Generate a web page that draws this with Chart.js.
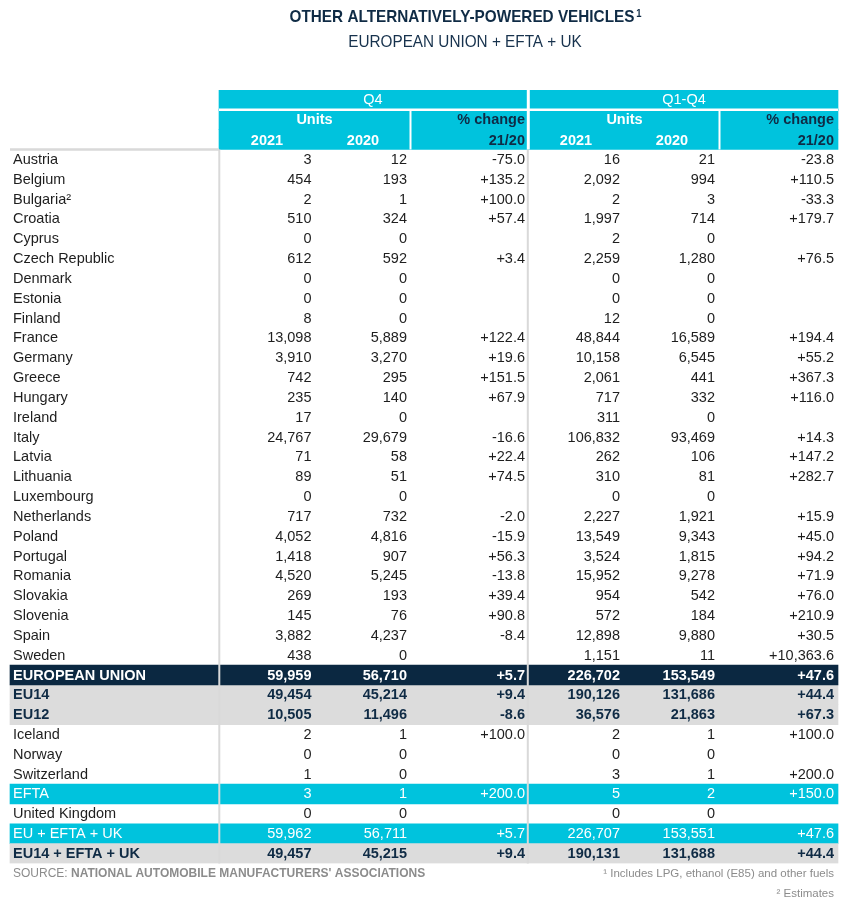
<!DOCTYPE html>
<html>
<head>
<meta charset="utf-8">
<script src="https://cdn.jsdelivr.net/npm/chart.js@4.4.1/dist/chart.umd.min.js"></script>
<style>
  html, body { margin: 0; padding: 0; background: #fff; }
  #wrap { position: relative; width: 850px; height: 904px; }
</style>
</head>
<body>
<div id="wrap"><canvas id="tableChart"></canvas></div>
<script>
// table rows
const countries = [
    'Austria', 'Belgium', 'Bulgaria²', 'Croatia', 'Cyprus', 'Czech Republic', 'Denmark',
    'Estonia', 'Finland', 'France', 'Germany', 'Greece', 'Hungary', 'Ireland', 'Italy',
    'Latvia', 'Lithuania', 'Luxembourg', 'Netherlands', 'Poland', 'Portugal', 'Romania',
    'Slovakia', 'Slovenia', 'Spain', 'Sweden', 'EUROPEAN UNION', 'EU14', 'EU12',
    'Iceland', 'Norway', 'Switzerland', 'EFTA', 'United Kingdom', 'EU + EFTA + UK',
    'EU14 + EFTA + UK'
];

// Q4
const q4Units2021 = [
    3, 454, 2, 510, 0, 612, 0, 0, 8, 13098, 3910, 742, 235, 17, 24767, 71, 89, 0,
    717, 4052, 1418, 4520, 269, 145, 3882, 438, 59959, 49454, 10505, 2, 0, 1, 3, 0,
    59962, 49457
];
const q4Units2020 = [
    12, 193, 1, 324, 0, 592, 0, 0, 0, 5889, 3270, 295, 140, 0, 29679, 58, 51, 0,
    732, 4816, 907, 5245, 193, 76, 4237, 0, 56710, 45214, 11496, 1, 0, 0, 1, 0,
    56711, 45215
];
const q4Change = [
    -75.0, 135.2, 100.0, 57.4, null, 3.4, null, null, null, 122.4, 19.6, 151.5, 67.9,
    null, -16.6, 22.4, 74.5, null, -2.0, -15.9, 56.3, -13.8, 39.4, 90.8, -8.4, null,
    5.7, 9.4, -8.6, 100.0, null, null, 200.0, null, 5.7, 9.4
];

// Q1-Q4
const fyUnits2021 = [
    16, 2092, 2, 1997, 2, 2259, 0, 0, 12, 48844, 10158, 2061, 717, 311, 106832, 262,
    310, 0, 2227, 13549, 3524, 15952, 954, 572, 12898, 1151, 226702, 190126, 36576,
    2, 0, 3, 5, 0, 226707, 190131
];
const fyUnits2020 = [
    21, 994, 3, 714, 0, 1280, 0, 0, 0, 16589, 6545, 441, 332, 0, 93469, 106, 81, 0,
    1921, 9343, 1815, 9278, 542, 184, 9880, 11, 153549, 131686, 21863, 1, 0, 1, 2, 0,
    153551, 131688
];
const fyChange = [
    -23.8, 110.5, -33.3, 179.7, null, 76.5, null, null, null, 194.4, 55.2, 367.3, 116.0,
    null, 14.3, 147.2, 282.7, null, 15.9, 45.0, 94.2, 71.9, 76.0, 210.9, 30.5, 10363.6,
    47.6, 44.4, 67.3, 100.0, null, 200.0, 150.0, null, 47.6, 44.4
];

const periodLabels = ['Q4', 'Q1-Q4'];
const yearLabels = ['2021', '2020'];
const headerRows = ['hdr-period', 'hdr-units', 'hdr-years'];

// how some rows are shaded
const rowKinds = {
    'EUROPEAN UNION': 'eu',
    'EU14': 'sub',
    'EU12': 'sub',
    'EFTA': 'band',
    'EU + EFTA + UK': 'band',
    'EU14 + EFTA + UK': 'total'
};

const CYAN = '#00c3dd';
const NAVY = '#0b2841';
const GREY = '#dcdcdc';
const RULE = '#d9d9d9';
const INK = '#1e1e1e';
const HEAD_INK = '#0f2b45';
const FONT = "'Liberation Sans', Arial, sans-serif";

const labels = headerRows.concat(countries);
const rowSpan = (kinds, from, to) => labels.map((l, i) => {
    if (kinds === 'header') return i < headerRows.length ? [from, to] : null;
    return kinds.includes(rowKinds[l]) ? [from, to] : null;
});

const barDefaults = {
    grouped: false,
    barPercentage: 1,
    categoryPercentage: 1,
    borderWidth: 0
};

// column anchors on the x scale (0..850)
const colQ4 = { units: [311.5, 407], change: 525, unitsMid: 314.5, yearMid: [267, 363], mid: 373 };
const colFY = { units: [620, 715], change: 834, unitsMid: 624.5, yearMid: [576, 672], mid: 684 };

const fmtUnits = v => v.toLocaleString('en-US');
const fmtChange = v => v === null ? '' :
    (v > 0 ? '+' : '') + v.toLocaleString('en-US', { minimumFractionDigits: 1, maximumFractionDigits: 1 });

function text(ctx, str, x, y, align, font, color) {
    ctx.font = font;
    ctx.fillStyle = color;
    ctx.textAlign = align;
    ctx.fillText(str, x, y);
}

const tableText = {
    id: 'tableText',
    afterDatasetsDraw(chart) {
        const { ctx, chartArea } = chart;
        const x = chart.scales.x;
        const y = chart.scales.y;
        const h = Math.abs(y.getPixelForValue(1) - y.getPixelForValue(0));
        const top = i => y.getPixelForValue(i) - h / 2;
        const line = (x0, y0, x1, y1, w, c) => {
            ctx.beginPath();
            ctx.lineWidth = w;
            ctx.strokeStyle = c;
            ctx.moveTo(x.getPixelForValue(x0), y0);
            ctx.lineTo(x.getPixelForValue(x1), y1);
            ctx.stroke();
        };

        ctx.save();

        // header separators
        line(219, top(1), 838, top(1), 2.5, '#fff');
        line(528.3, top(0), 528.3, top(3), 3, '#fff');
        line(410.5, top(1), 410.5, top(3), 2, '#fff');
        line(719.5, top(1), 719.5, top(3), 2, '#fff');

        // grey rules
        line(10, top(3), 219, top(3), 2.5, RULE);
        line(219.3, top(3), 219.3, chartArea.bottom, 2, RULE);
        line(527.8, top(3), 527.8, chartArea.bottom, 2, RULE);

        ctx.textBaseline = 'middle';
        const bold = `bold 14.5px ${FONT}`;
        const reg = `14.5px ${FONT}`;

        // header
        [colQ4, colFY].forEach((c, k) => {
            text(ctx, periodLabels[k], x.getPixelForValue(c.mid), y.getPixelForValue(0) + 0.5, 'center', reg, '#fff');
            text(ctx, 'Units', x.getPixelForValue(c.unitsMid), y.getPixelForValue(1) + 0.5, 'center', bold, '#fff');
            text(ctx, '% change', x.getPixelForValue(c.change), y.getPixelForValue(1) + 0.5, 'right', bold, HEAD_INK);
            yearLabels.forEach((yr, j) => {
                text(ctx, yr, x.getPixelForValue(c.yearMid[j]), y.getPixelForValue(2) + 1, 'center', bold, '#fff');
            });
            text(ctx, '21/20', x.getPixelForValue(c.change), y.getPixelForValue(2) + 1, 'right', bold, HEAD_INK);
        });

        // body
        countries.forEach((name, i) => {
            const cy = y.getPixelForValue(i + headerRows.length) + 0.5;
            const kind = rowKinds[name];
            let font = reg, color = INK;
            if (kind === 'eu') { font = bold; color = '#fff'; }
            if (kind === 'sub' || kind === 'total') { font = bold; color = HEAD_INK; }
            if (kind === 'band') { color = '#fff'; }

            text(ctx, name, x.getPixelForValue(13), cy, 'left', font, color);
            const cells = [
                [fmtUnits(q4Units2021[i]), colQ4.units[0]],
                [fmtUnits(q4Units2020[i]), colQ4.units[1]],
                [fmtChange(q4Change[i]), colQ4.change],
                [fmtUnits(fyUnits2021[i]), colFY.units[0]],
                [fmtUnits(fyUnits2020[i]), colFY.units[1]],
                [fmtChange(fyChange[i]), colFY.change]
            ];
            cells.forEach(([s, px]) => text(ctx, s, x.getPixelForValue(px), cy, 'right', font, color));
        });

        // title block
        ctx.textBaseline = 'alphabetic';
        ctx.save();
        ctx.translate(462, 0);
        ctx.scale(0.9, 1);
        text(ctx, 'OTHER ALTERNATIVELY-POWERED VEHICLES', 0, 21.7, 'center', `bold 17px ${FONT}`, HEAD_INK);
        ctx.font = `bold 17px ${FONT}`;
        const tw = ctx.measureText('OTHER ALTERNATIVELY-POWERED VEHICLES').width;
        text(ctx, '1', tw / 2 + 2, 16.5, 'left', `bold 10.5px ${FONT}`, HEAD_INK);
        ctx.restore();
        ctx.save();
        ctx.translate(465, 0);
        ctx.scale(0.9, 1);
        text(ctx, 'EUROPEAN UNION + EFTA + UK', 0, 47, 'center', `17px ${FONT}`, '#17324d');
        ctx.restore();

        // notes
        const grey = '#8c8c8c';
        ctx.font = `12px ${FONT}`;
        const srcW = ctx.measureText('SOURCE: ').width;
        text(ctx, 'SOURCE: ', 13, 877, 'left', `12px ${FONT}`, grey);
        text(ctx, "NATIONAL AUTOMOBILE MANUFACTURERS' ASSOCIATIONS", 13 + srcW, 877, 'left', `bold 12px ${FONT}`, grey);
        text(ctx, '¹ Includes LPG, ethanol (E85) and other fuels', 834, 877, 'right', `11.5px ${FONT}`, grey);
        text(ctx, '² Estimates', 834, 897, 'right', `11.5px ${FONT}`, grey);

        ctx.restore();
    }
};

new Chart(document.getElementById('tableChart'), {
    type: 'bar',
    data: {
        labels: labels,
        datasets: [
            { ...barDefaults, label: 'header', data: rowSpan('header', 219, 838), backgroundColor: CYAN },
            { ...barDefaults, label: 'eu', data: rowSpan(['eu'], 10, 838), backgroundColor: NAVY },
            { ...barDefaults, label: 'sub', data: rowSpan(['sub', 'total'], 10, 838), backgroundColor: GREY },
            { ...barDefaults, label: 'band', data: rowSpan(['band'], 10, 838), backgroundColor: CYAN }
        ]
    },
    options: {
        indexAxis: 'y',
        responsive: true,
        maintainAspectRatio: false,
        animation: false,
        events: [],
        layout: { padding: { top: 90, bottom: 40.6, left: 0, right: 0 } },
        scales: {
            x: { type: 'linear', min: 0, max: 850, display: false },
            y: { type: 'category', display: false, offset: true }
        },
        plugins: {
            legend: { display: false },
            tooltip: { enabled: false }
        }
    },
    plugins: [tableText]
});
</script>
</body>
</html>
